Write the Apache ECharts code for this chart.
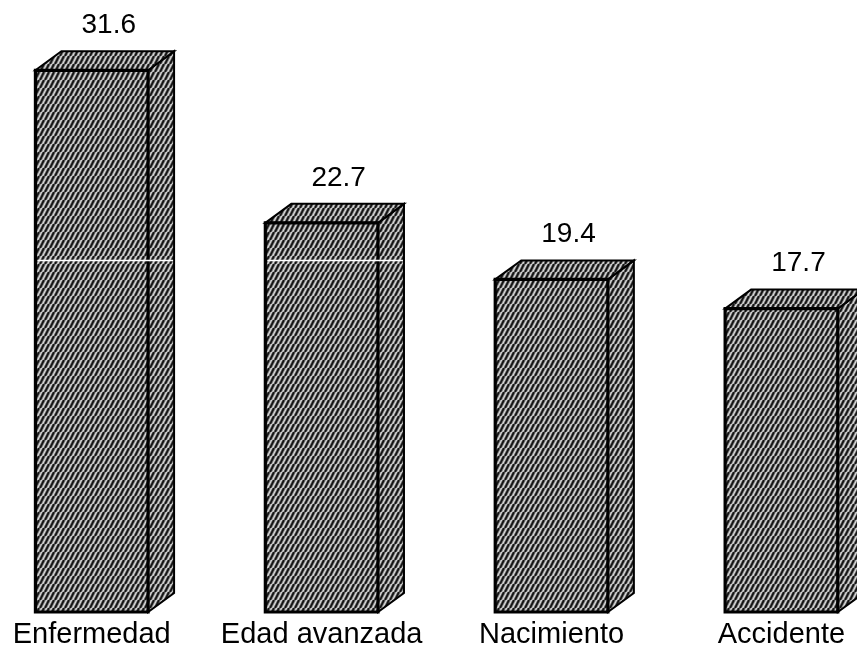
<!DOCTYPE html>
<html><head><meta charset="utf-8">
<script src="https://cdn.jsdelivr.net/npm/echarts@6/dist/echarts.min.js"></script>
<style>html,body{margin:0;padding:0;background:#fff}#c{width:857px;height:648px}</style>
</head><body><div id="c"></div>
<script>
const categories = ['Enfermedad', 'Edad avanzada', 'Nacimiento', 'Accidente'];
const values = [31.6, 22.7, 19.4, 17.7];
const whiteRuleValue = 20.5;

function makePattern() {
  const c = document.createElement('canvas');
  c.width = 5; c.height = 8;
  const g = c.getContext('2d');
  g.fillStyle = '#8c8c8c';
  g.fillRect(0, 0, 5, 8);
  for (const off of [-5, 0, 5]) {
    g.strokeStyle = '#141414';
    g.lineWidth = 1.9;
    g.beginPath(); g.moveTo(off, 8); g.lineTo(off + 4, 0); g.stroke();
    g.strokeStyle = '#f0f0f0';
    g.lineWidth = 0.9;
    g.beginPath(); g.moveTo(off + 2.6, 8); g.lineTo(off + 6.6, 0); g.stroke();
  }
  return { image: c, repeat: 'repeat' };
}
const pattern = makePattern();

const chart = echarts.init(document.getElementById('c'), null, { renderer: 'canvas' });
chart.setOption({
  animation: false,
  backgroundColor: '#fff',
  grid: { left: -23.2, right: -39.4, top: 12, bottom: 36, containLabel: false, outerBoundsMode: 'none' },
  xAxis: {
    type: 'category',
    data: categories,
    axisLine: { show: false },
    axisTick: { show: false },
    axisLabel: {
      color: '#000', fontSize: 29, fontFamily: '"Liberation Sans", Arial, sans-serif',
      margin: 8, interval: 0, hideOverlap: false
    }
  },
  yAxis: { type: 'value', min: 0, max: 35, show: false, splitLine: { show: false } },
  series: [{
    type: 'custom',
    clip: false,
    data: values.map((v, i) => [i, v]),
    renderItem: function (params, api) {
      const i = api.value(0), v = api.value(1);
      const top = api.coord([i, v]);
      const base = api.coord([i, 0]);
      const band = api.size([1, 0])[0];
      const w = band * 0.49;
      const x0 = top[0] - w / 2, x1 = top[0] + w / 2, yt = top[1], yb = base[1];
      const dx = 26, dy = -19;
      const children = [
        { type: 'polygon', shape: { points: [[x1, yt], [x1 + dx, yt + dy], [x1 + dx, yb + dy], [x1, yb]] },
          style: { fill: pattern, stroke: '#000', lineWidth: 2, lineJoin: 'miter' } },
        { type: 'polygon', shape: { points: [[x0, yt], [x0 + dx, yt + dy], [x1 + dx, yt + dy], [x1, yt]] },
          style: { fill: pattern, stroke: '#000', lineWidth: 2, lineJoin: 'miter' } },
        { type: 'rect', shape: { x: x0, y: yt, width: w, height: yb - yt },
          style: { fill: pattern, stroke: '#000', lineWidth: 3.2 } }
      ];
      if (v > whiteRuleValue) {
        const ry = api.coord([i, whiteRuleValue])[1];
        children.push({ type: 'line', shape: { x1: x0 + 2, y1: ry, x2: x1 + dx - 1, y2: ry },
          style: { stroke: '#fff', lineWidth: 1.5 } });
      }
      children.push({ type: 'text', x: top[0] + 17, y: yt - 45,
        style: { text: v.toFixed(1), fill: '#000', font: '28px "Liberation Sans", Arial, sans-serif',
          align: 'center', verticalAlign: 'middle' } });
      return { type: 'group', children: children };
    }
  }]
});
</script>
</body></html>
